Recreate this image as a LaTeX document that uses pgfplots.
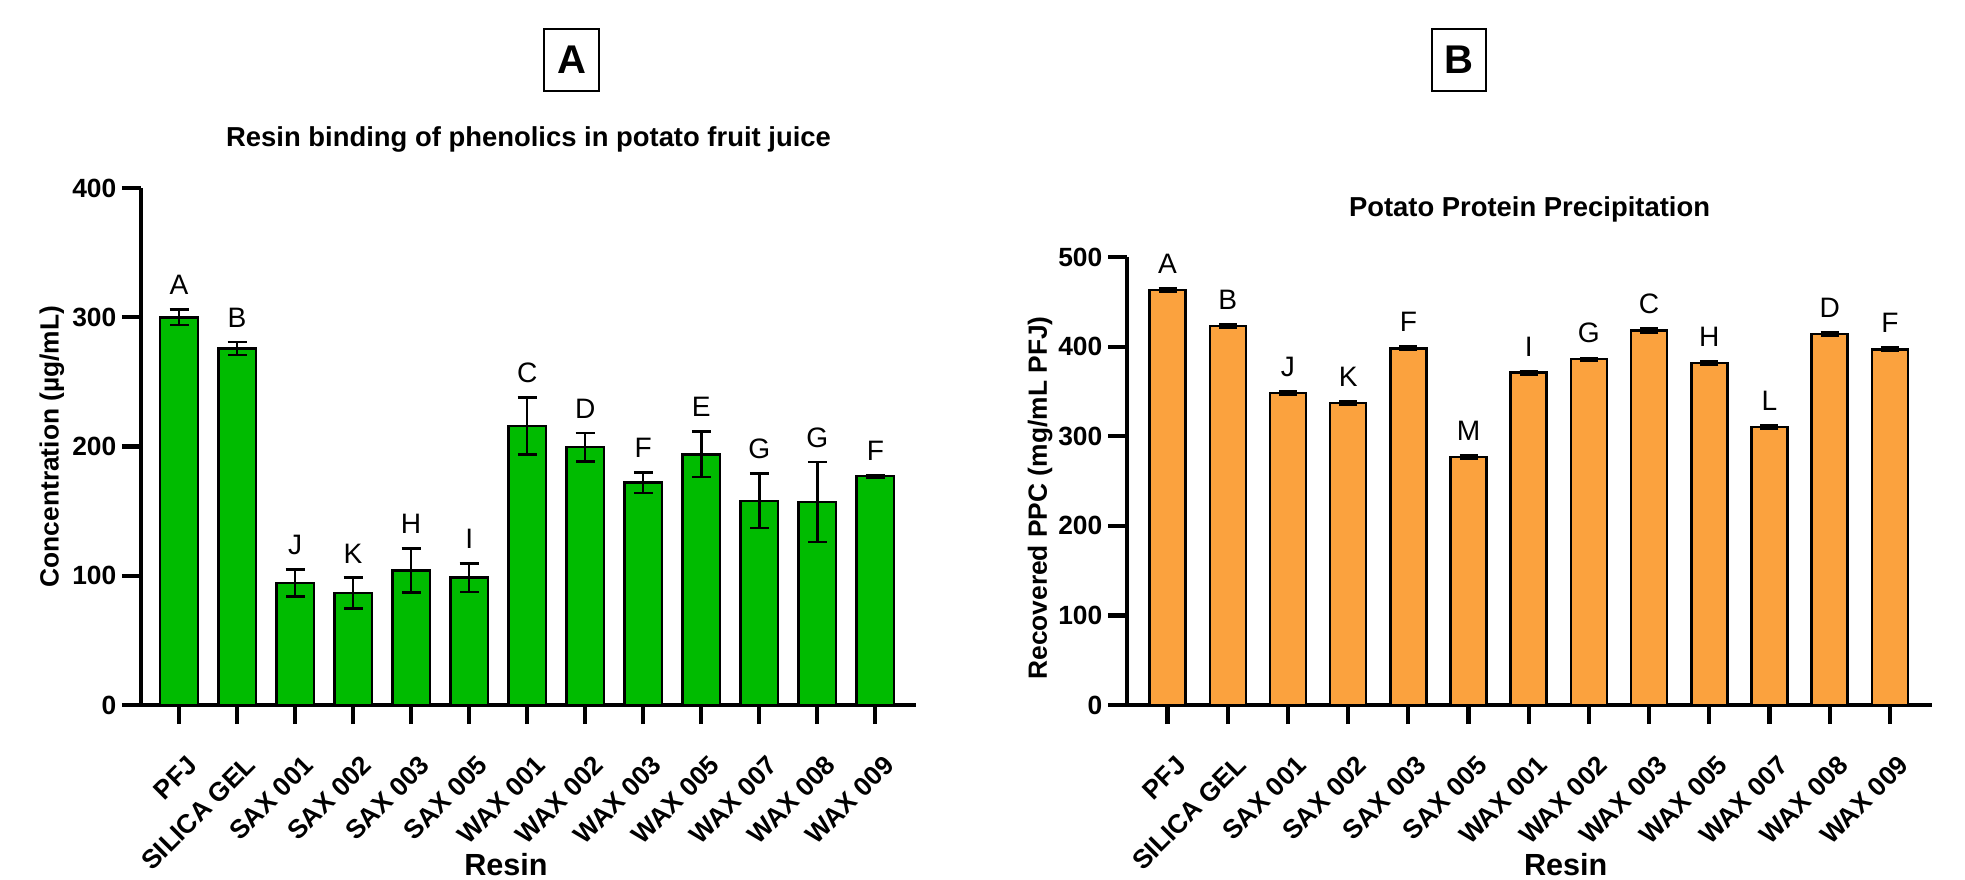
\documentclass[border=0pt]{standalone}
\usepackage{pgfplots}
\pgfplotsset{compat=1.18}
\usepackage{pgfplotstable}
\usepackage{fontspec}
\setmainfont{Liberation Sans}
\definecolor{barA}{RGB}{0,187,0}
\definecolor{barB}{RGB}{251,162,62}

\pgfplotstableread{
x y err lab
0 300 6 A
1 276 5 B
2 94.5 10.5 J
3 86.5 12 K
4 104 17 H
5 98.5 11 I
6 216 22 C
7 199.5 11 D
8 172 8 F
9 194 17.5 E
10 158 21 G
11 157 31 G
12 177 1 F
}\tableA

\pgfplotstableread{
x y err lab
0 463 2 A
1 423 2 B
2 348 2 J
3 337 2 K
4 398 2 F
5 277 2 M
6 371 2 I
7 386 1.5 G
8 418 2 C
9 382 2 H
10 310 2 L
11 414 2 D
12 397 2 F
}\tableB

\pgfplotsset{
  prism/.style={
    scale only axis,
    axis x line*=bottom, axis y line*=left,
    axis line style={line width=1.2pt, black},
    tick align=outside, major tick length=1.9mm,
    tick style={line width=1.2pt, black},
    xtick={0,...,12},
    xticklabels={PFJ,SILICA GEL,SAX 001,SAX 002,SAX 003,SAX 005,WAX 001,WAX 002,WAX 003,WAX 005,WAX 007,WAX 008,WAX 009},
    xticklabel style={xshift=0.7mm, yshift=-2.9mm, rotate=45, anchor=north east, inner sep=0pt, font=\bfseries\fontsize{7.5}{8}\selectfont},
    yticklabel style={inner sep=0pt, xshift=-0.5mm, font=\bfseries\fontsize{7.5}{8}\selectfont},
    /pgf/number format/assume math mode=true,
    clip=false,
    ymin=0,
    title style={font=\bfseries\fontsize{7.8}{9}\selectfont, anchor=center},
    ylabel style={font=\bfseries\fontsize{7.5}{9}\selectfont, anchor=center},
    xlabel style={font=\bfseries\fontsize{8.7}{10}\selectfont, anchor=center},
  },
  lettlab/.style={draw=none, mark=none, forget plot, nodes near coords, point meta=explicit symbolic,
    nodes near coords style={anchor=south, inner sep=0pt, yshift=1.4mm, font=\fontsize{8}{9}\selectfont, text=black}},
}

\begin{document}
\begin{tikzpicture}
\path[use as bounding box] (0,0) rectangle (19.65cm,8.79cm);

\begin{axis}[prism,
  at={(1.41cm,1.74cm)}, anchor=south west,
  width=7.75cm, height=5.17cm,
  xmin=-0.655, xmax=12.70, ymax=400,
  ytick={0,100,200,300,400},
  title={Resin binding of phenolics in potato fruit juice},
  title style={at={(axis description cs:0.5,1.053)}},
  ylabel={Concentration (µg/mL)},
  ylabel style={at={(axis description cs:-0.115,0.5)}},
  xlabel={Resin},
  xlabel style={at={(axis description cs:0.471,-0.309)}},
]
\addplot[ybar, bar width=0.375cm, bar shift=0pt, fill=barA, draw=black, line width=0.7pt,
  error bars/.cd, y dir=both, y explicit,
  error bar style={line width=0.7pt, black},
  error mark options={line width=0.7pt, mark size=0.95mm, rotate=90, black}]
  table[x=x, y=y, y error=err]{\tableA};
\addplot[lettlab] table[x=x, y expr=\thisrow{y}+\thisrow{err}, meta=lab]{\tableA};
\end{axis}

\begin{axis}[prism,
  at={(11.27cm,1.74cm)}, anchor=south west,
  width=8.05cm, height=4.48cm,
  xmin=-0.674, xmax=12.70, ymax=500,
  ytick={0,100,200,300,400,500},
  title={Potato Protein Precipitation},
  title style={at={(axis description cs:0.5,1.060)}},
  ylabel={Recovered PPC (mg/mL PFJ)},
  ylabel style={at={(axis description cs:-0.108,0.462)}},
  xlabel={Resin},
  xlabel style={at={(axis description cs:0.545,-0.357)}},
]
\addplot[ybar, bar width=0.36cm, bar shift=0pt, fill=barB, draw=black, line width=0.7pt,
  error bars/.cd, y dir=both, y explicit,
  error bar style={line width=0.7pt, black},
  error mark options={line width=0.7pt, mark size=0.9mm, rotate=90, black}]
  table[x=x, y=y, y error=err]{\tableB};
\addplot[lettlab] table[x=x, y expr=\thisrow{y}+\thisrow{err}, meta=lab]{\tableB};
\end{axis}

\node[draw, line width=0.8pt, minimum width=5.5mm, minimum height=6.2mm, inner sep=0pt,
  font=\bfseries\fontsize{11.4}{12}\selectfont] at (5.715cm,8.19cm) {A};
\node[draw, line width=0.8pt, minimum width=5.4mm, minimum height=6.2mm, inner sep=0pt,
  font=\bfseries\fontsize{11.4}{12}\selectfont] at (14.59cm,8.19cm) {B};
\end{tikzpicture}
\end{document}
